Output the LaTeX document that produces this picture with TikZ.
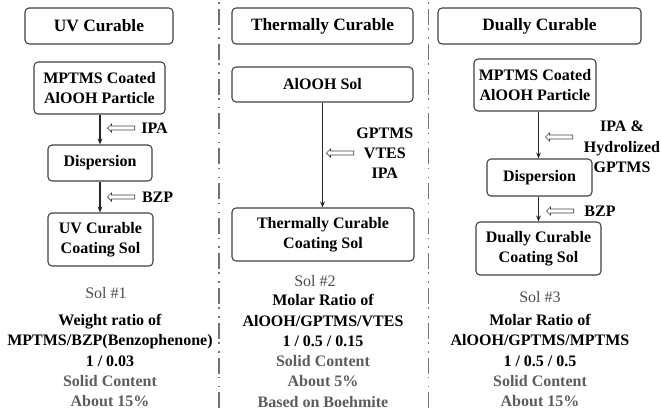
\documentclass[tikz,border=0pt]{standalone}
\usepackage{fontspec}
\setmainfont{Liberation Serif}
\usepackage{tikz}
\usetikzlibrary{positioning}
\usetikzlibrary{shapes.arrows}
\usetikzlibrary{arrows.meta}
\definecolor{boxline}{gray}{0.25}
\definecolor{soltext}{gray}{0.36}
\definecolor{solnum}{gray}{0.3}
\tikzstyle{box}=[draw=boxline,line width=0.8pt,rounded corners=3pt,align=center,inner sep=0pt,font=\fontsize{12}{15.2}\selectfont\bfseries]
\tikzstyle{titlebox}=[box,minimum height=27pt,font=\fontsize{13}{15.2}\selectfont\bfseries]
\tikzstyle{flow}=[draw=black!85,line width=0.9pt,-{Stealth[length=4.5pt,width=3.6pt]}]
\tikzstyle{addarrow}=[single arrow,draw=boxline,fill=white,line width=0.5pt,shape border rotate=180,minimum height=20.5pt,inner sep=1.2pt,single arrow head extend=1.6pt,anchor=tip]
\tikzstyle{note}=[align=center,inner sep=0pt,font=\fontsize{12}{15.2}\selectfont\bfseries]
\tikzstyle{solno}=[inner sep=0pt,text=solnum,font=\fontsize{12}{15.2}\selectfont]
\tikzstyle{divider}=[draw=black!55,line width=1.1pt,dash pattern=on 12pt off 2.6pt on 1.1pt off 5.6pt on 1.1pt off 3.75pt,dash phase=19.5pt]
\newcommand{\gry}[1]{\textcolor{soltext}{#1}}

\begin{document}
\begin{tikzpicture}[x=0.75pt,y=-0.75pt]
  \useasboundingbox (0,0) rectangle (661,411);
  % column dividers
  \draw[divider] (219,0) -- (219,411);
  \draw[divider] (428.5,0) -- (428.5,411);

  % UV curable
  \node[titlebox,minimum width=111pt] (uvtitle) at (99,26) {UV Curable};
  \node[box,minimum width=98.25pt,minimum height=39pt] (uvstart) at (99.5,88) {MPTMS Coated\\AlOOH Particle};
  \node[box,minimum width=78pt,minimum height=27pt] (uvdisp) at (100,163) {Dispersion};
  \node[box,minimum width=78.75pt,minimum height=39.75pt] (uvsol) at (100.5,239.5) {UV Curable\\Coating Sol};
  \draw[flow] (uvstart.south -| uvdisp) -- (uvdisp.north);
  \draw[flow] (uvdisp.south) -- (uvdisp.south |- uvsol.north);
  \node[addarrow] (uvipa) at (107,128) {};
  \node[note,right=4.5pt of uvipa] (uvipatxt) {IPA};
  \node[addarrow] (uvbzp) at (107,197) {};
  \node[note,right=5pt of uvbzp] (uvbzptxt) {BZP};
  \node[solno] (uvno) at (106,293) {Sol \#1};
  \node[note] (uvratio) at (110,360.5) {Weight ratio of\\MPTMS/BZP(Benzophenone)\\1 / 0.03\\\gry{Solid Content}\\\gry{About 15\%}};

  % thermally curable
  \node[titlebox,minimum width=135.75pt] (thtitle) at (322.5,26) {Thermally Curable};
  \node[box,minimum width=135.75pt,minimum height=26.25pt] (thstart) at (322.5,84.5) {AlOOH Sol};
  \node[box,minimum width=136.5pt,minimum height=39.75pt] (thsol) at (323,234.5) {Thermally Curable\\Coating Sol};
  \draw[flow] (thstart.south) -- (thstart.south |- thsol.north);
  \node[addarrow] (thadd) at (326,153) {};
  \node[note,right=1.5pt of thadd] (thaddtxt) {GPTMS\\VTES\\IPA};
  \node[solno] (thno) at (315,281) {Sol \#2};
  \node[note] (thratio) at (323,351) {Molar Ratio of\\AlOOH/GPTMS/VTES\\1 / 0.5 / 0.15\\\gry{Solid Content}\\\gry{About 5\%}\\\gry{Based on Boehmite}};

  % dually curable
  \node[titlebox,minimum width=152.25pt] (dutitle) at (539.5,26) {Dually Curable};
  \node[box,minimum width=91.5pt,minimum height=39pt] (dustart) at (535,85) {MPTMS Coated\\AlOOH Particle};
  \node[box,minimum width=78.75pt,minimum height=27.75pt] (dudisp) at (539.5,177.5) {Dispersion};
  \node[box,minimum width=93.75pt,minimum height=39.75pt] (dusol) at (538.5,248.5) {Dually Curable\\Coating Sol};
  \draw[flow] (dustart.south -| dusol) -- (dudisp.north -| dusol);
  \draw[flow] (dudisp.south -| dusol) -- (dusol.north);
  \node[addarrow] (duipa) at (545,137) {};
  \node[note] (duipatxt) at (622,147) {IPA \&\\Hydrolized\\GPTMS};
  \node[addarrow] (dubzp) at (546,211) {};
  \node[note,right=7.5pt of dubzp] (dubzptxt) {BZP};
  \node[solno] (duno) at (540,297) {Sol \#3};
  \node[note] (duratio) at (540,360.5) {Molar Ratio of\\AlOOH/GPTMS/MPTMS\\1 / 0.5 / 0.5\\\gry{Solid Content}\\\gry{About 15\%}};
\end{tikzpicture}
\end{document}
